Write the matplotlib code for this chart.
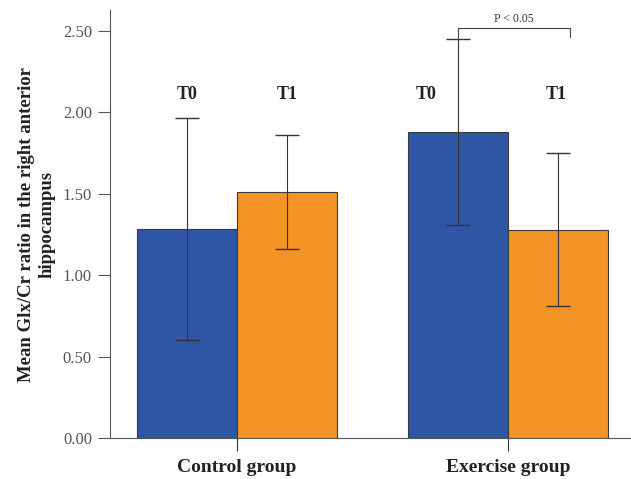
import matplotlib
matplotlib.use('Agg')
import matplotlib.pyplot as plt
import numpy as np

# data
groups = ['Control group', 'Exercise group']
timepoints = ['T0', 'T1']
t0_means = [1.284, 1.880]
t1_means = [1.511, 1.278]
t0_err = [0.682, 0.570]
t1_err = [0.353, 0.470]
y_ticks = [0.0, 0.5, 1.0, 1.5, 2.0, 2.5]
sig_text = 'P < 0.05'

plt.rcParams['font.family'] = ['Liberation Serif', 'DejaVu Serif']

fig = plt.figure(figsize=(6.31, 4.79), dpi=100)
ax = fig.add_axes([0.1743, 0.0856, 0.8240, 0.8935])

x = np.arange(len(groups))
w = 0.369
blue = '#2f55a5'
orange = '#f39424'
edge = '#3a3a3a'

ax.bar(x - w / 2, t0_means, w, color=blue, edgecolor=edge, linewidth=0.8, zorder=2)
ax.bar(x + w / 2, t1_means, w, color=orange, edgecolor=edge, linewidth=0.8, zorder=2)
ax.errorbar(x - w / 2, t0_means, yerr=t0_err, fmt='none', ecolor='#333333',
            elinewidth=0.8, capsize=8.6, capthick=1.0, zorder=3)
ax.errorbar(x + w / 2, t1_means, yerr=t1_err, fmt='none', ecolor='#333333',
            elinewidth=0.8, capsize=8.6, capthick=1.0, zorder=3)

# T0 / T1 labels above the bars (exercise T0 nudged left of its error bar)
label_shift = [[0.0, 0.0], [-0.118, -0.008]]
for gi, xi in enumerate(x):
    for k, (off, lab) in enumerate(zip((-w / 2, w / 2), timepoints)):
        ax.text(xi + off + label_shift[gi][k], 2.107, lab, ha='center', va='center',
                fontsize=13, fontweight='bold', color='#222222')

# significance bracket for the exercise group
bx0 = x[1] - w / 2
bx1 = x[1] + w / 2 + 0.045
top = t0_means[1] + t0_err[1]
ax.plot([bx0, bx0, bx1, bx1], [top, 2.518, 2.518, 2.463],
        color='#444444', linewidth=0.8, zorder=3)
ax.text((bx0 + bx1) / 2, 2.535, sig_text, ha='center', va='bottom',
        fontsize=8.5, color='#333333')

ax.set_xlim(-0.469, 1.45)
ax.set_ylim(0, 2.629)
ax.set_yticks(y_ticks)
ax.set_yticklabels([f'{v:.2f}' for v in y_ticks], fontsize=12, color='#555555')
ax.set_xticks(x)
ax.set_xticklabels(groups, fontsize=14, fontweight='bold', color='#222222')

ax.tick_params(axis='y', length=9, width=0.8, color='#555555', pad=4)
ax.tick_params(axis='x', length=9, width=0.8, color='#333333', pad=6)
for s in ('top', 'right'):
    ax.spines[s].set_visible(False)
for s in ('left', 'bottom'):
    ax.spines[s].set_color('#555555')
    ax.spines[s].set_linewidth(0.8)

ax.set_ylabel('Mean Glx/Cr ratio in the right anterior\nhippocampus',
              fontsize=13.5, fontweight='bold', color='#222222', labelpad=5,
              linespacing=1.3)

fig.savefig('out.png', dpi=100)
